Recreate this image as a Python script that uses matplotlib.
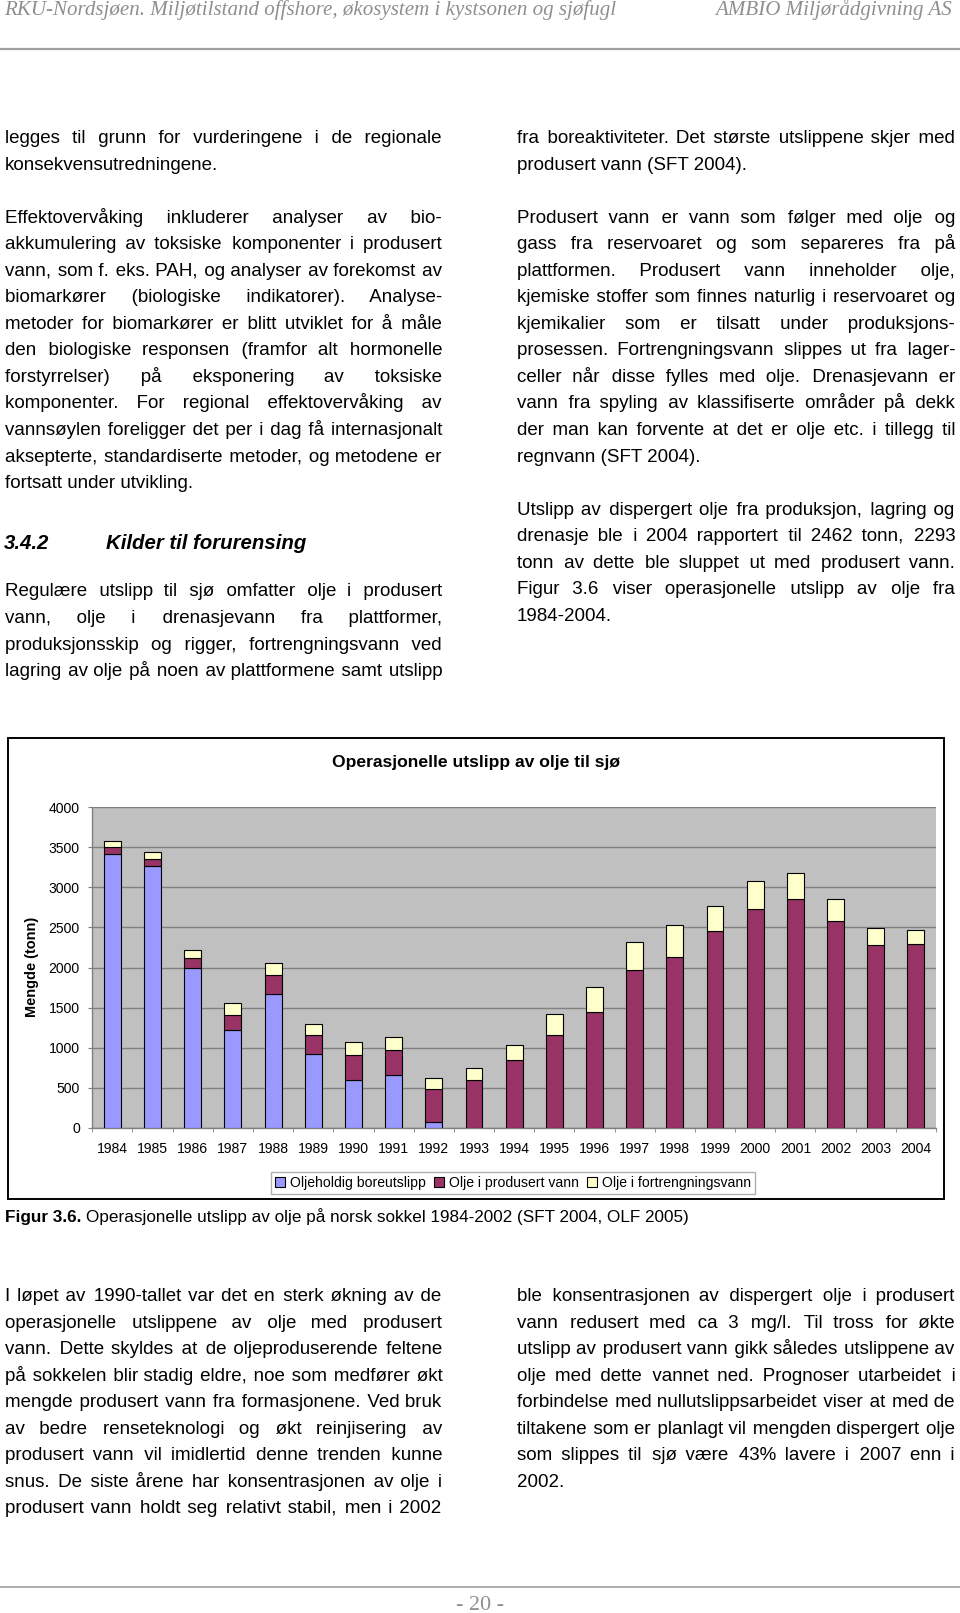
import matplotlib
matplotlib.use("Agg")
import matplotlib.pyplot as plt
from matplotlib import font_manager
from matplotlib.patches import Rectangle, Patch
import numpy as np

years = [str(y) for y in range(1984, 2005)]
boreutslipp = [3421, 3272, 1994, 1215, 1673, 924, 591, 658, 75, 0, 0,
               0, 0, 0, 0, 0, 0, 0, 0, 0, 0]
produsert_vann = [79, 79, 129, 192, 229, 229, 316, 308, 404, 591, 841,
                  1153, 1444, 1973, 2127, 2460, 2735, 2860, 2577, 2277, 2293]
fortrengningsvann = [84, 95, 91, 154, 150, 146, 163, 162, 145, 158, 195,
                     271, 313, 341, 404, 312, 345, 320, 283, 220, 169]
series_names = ["Oljeholdig boreutslipp", "Olje i produsert vann",
                "Olje i fortrengningsvann"]
series_colors = ["#9999FF", "#993366", "#FFFFCC"]

header_left = "RKU-Nordsjøen. Miljøtilstand offshore, økosystem i kystsonen og sjøfugl"
header_right = "AMBIO Miljørådgivning AS"

# (tekst, justert)
left_top = [
    ("legges til grunn for vurderingene i de regionale", True),
    ("konsekvensutredningene.", False),
    None,
    ("Effektovervåking inkluderer analyser av bio-", True),
    ("akkumulering av toksiske komponenter i produsert", True),
    ("vann, som f. eks. PAH, og analyser av forekomst av", True),
    ("biomarkører (biologiske indikatorer). Analyse-", True),
    ("metoder for biomarkører er blitt utviklet for å måle", True),
    ("den biologiske responsen (framfor alt hormonelle", True),
    ("forstyrrelser) på eksponering av toksiske", True),
    ("komponenter. For regional effektovervåking av", True),
    ("vannsøylen foreligger det per i dag få internasjonalt", True),
    ("aksepterte, standardiserte metoder, og metodene er", True),
    ("fortsatt under utvikling.", False),
]
left_mid = [
    ("Regulære utslipp til sjø omfatter olje i produsert", True),
    ("vann, olje i drenasjevann fra plattformer,", True),
    ("produksjonsskip og rigger, fortrengningsvann ved", True),
    ("lagring av olje på noen av plattformene samt utslipp", True),
]
right_top = [
    ("fra boreaktiviteter. Det største utslippene skjer med", True),
    ("produsert vann (SFT 2004).", False),
    None,
    ("Produsert vann er vann som følger med olje og", True),
    ("gass fra reservoaret og som separeres fra på", True),
    ("plattformen. Produsert vann inneholder olje,", True),
    ("kjemiske stoffer som finnes naturlig i reservoaret og", True),
    ("kjemikalier som er tilsatt under produksjons-", True),
    ("prosessen. Fortrengningsvann slippes ut fra lager-", True),
    ("celler når disse fylles med olje. Drenasjevann er", True),
    ("vann fra spyling av klassifiserte områder på dekk", True),
    ("der man kan forvente at det er olje etc. i tillegg til", True),
    ("regnvann (SFT 2004).", False),
    None,
    ("Utslipp av dispergert olje fra produksjon, lagring og", True),
    ("drenasje ble i 2004 rapportert til 2462 tonn, 2293", True),
    ("tonn av dette ble sluppet ut med produsert vann.", True),
    ("Figur 3.6 viser operasjonelle utslipp av olje fra", True),
    ("1984-2004.", False),
]
left_bottom = [
    ("I løpet av 1990-tallet var det en sterk økning av de", True),
    ("operasjonelle utslippene av olje med produsert", True),
    ("vann. Dette skyldes at de oljeproduserende feltene", True),
    ("på sokkelen blir stadig eldre, noe som medfører økt", True),
    ("mengde produsert vann fra formasjonene. Ved bruk", True),
    ("av bedre renseteknologi og økt reinjisering av", True),
    ("produsert vann vil imidlertid denne trenden kunne", True),
    ("snus. De siste årene har konsentrasjonen av olje i", True),
    ("produsert vann holdt seg relativt stabil, men i 2002", True),
]
right_bottom = [
    ("ble konsentrasjonen av dispergert olje i produsert", True),
    ("vann redusert med ca 3 mg/l. Til tross for økte", True),
    ("utslipp av produsert vann gikk således utslippene av", True),
    ("olje med dette vannet ned. Prognoser utarbeidet i", True),
    ("forbindelse med nullutslippsarbeidet viser at med de", True),
    ("tiltakene som er planlagt vil mengden dispergert olje", True),
    ("som slippes til sjø være 43% lavere i 2007 enn i", True),
    ("2002.", False),
]

W, H = 960, 1613
names = {f.name for f in font_manager.fontManager.ttflist}
SANS = "Liberation Sans Narrow" if "Liberation Sans Narrow" in names else "Liberation Sans"
SERIF = "Liberation Serif"

fig = plt.figure(figsize=(W / 100, H / 100), dpi=100)
fig.patch.set_facecolor("white")
bg = fig.add_axes([0, 0, 1, 1])
bg.set_xlim(0, W)
bg.set_ylim(H, 0)
bg.axis("off")
renderer = fig.canvas.get_renderer()


def text_width(s, size, **kw):
    t = bg.text(0, 0, s, fontsize=size, **kw)
    w = t.get_window_extent(renderer).width
    t.remove()
    return w


def fit_size(s, width, **kw):
    return 10 * width / text_width(s, 10, **kw)


THIN, HAIR = "\u2009", "\u200a"


def justify(words, width, size, **kw):
    # hele linja som én tekst, ekstra luft fylt med smale mellomrom
    base = text_width("xx", size, **kw)
    t = text_width("x" + THIN + "x", size, **kw) - base
    h = text_width("x" + HAIR + "x", size, **kw) - base
    extra = width - text_width(" ".join(words), size, **kw)
    if extra <= 0 or t <= 0.5:
        return " ".join(words)
    e = extra / (len(words) - 1)
    out, carry = words[0], 0.0
    for w in words[1:]:
        need = e + carry
        nt = int(need // t)
        rest = need - nt * t
        nh = int(round(rest / h)) if h > 0.3 else 0
        carry = need - nt * t - nh * h
        out += " " + THIN * nt + HAIR * nh + w
    return out


def put_line(s, x0, x1, y, size, just, **kw):
    words = s.split()
    if just and len(words) > 1:
        s = justify(words, x1 - x0, size, **kw)
    bg.text(x0, y, s, fontsize=size, va="baseline", ha="left", **kw)


def put_block(lines, x0, x1, y0, step, size, **kw):
    y = y0
    for ln in lines:
        if ln is not None:
            put_line(ln[0], x0, x1, y, size, ln[1], **kw)
        y += step


body = dict(family=[SANS, "DejaVu Sans"], color="black")
body_size = fit_size("konsekvensutredningene.", 214, **body)
step = 26.55

# topptekst / bunntekst
hdr = dict(family=SERIF, style="italic", color="#8f8f8f")
hsize = fit_size(header_left, 612, **hdr)
bg.text(4, 15, header_left, fontsize=hsize, va="baseline", ha="left", **hdr)
bg.text(952, 15, header_right, fontsize=hsize, va="baseline", ha="right", **hdr)
bg.plot([0, W], [49, 49], color="#a0a0a0", lw=1.6)
bg.plot([0, W], [1587, 1587], color="#a0a0a0", lw=1.2)
psize = fit_size("- 20 -", 48, family=SERIF)
bg.text(480, 1610, "- 20 -", fontsize=psize, family=SERIF, color="#8f8f8f",
        ha="center", va="baseline")

# brødtekst
put_block(left_top, 5, 442, 143, step, body_size, **body)
put_block(right_top, 517, 955, 143, step, body_size, **body)
put_block(left_mid, 5, 442, 596.5, step, body_size, **body)
put_block(left_bottom, 5, 442, 1301, step, body_size, **body)
put_block(right_bottom, 517, 955, 1301, step, body_size, **body)

# overskrift
hd = dict(family=SANS, weight="bold", style="italic", color="black")
hd_size = fit_size("Kilder til forurensing", 201, **hd)
bg.text(4, 549, "3.4.2", fontsize=hd_size, va="baseline", **hd)
bg.text(106, 549, "Kilder til forurensing", fontsize=hd_size, va="baseline", **hd)

# figurtekst
cap = dict(family=SANS, color="black")
cap_rest = "Operasjonelle utslipp av olje på norsk sokkel 1984-2002 (SFT 2004, OLF 2005)"
cap_size = fit_size(cap_rest, 603, **cap)
bg.text(5, 1222, "Figur 3.6.", fontsize=cap_size, weight="bold", va="baseline", **cap)
bw = text_width("Figur 3.6. ", cap_size, weight="bold", **cap)
bg.text(5 + bw, 1222, cap_rest, fontsize=cap_size, va="baseline", **cap)

# diagramramme
bg.add_patch(Rectangle((8, 738), 936, 460.5, fill=False, ec="black", lw=1.4))
ttl = dict(family=SANS, weight="bold")
bg.text(476, 763, "Operasjonelle utslipp av olje til sjø",
        fontsize=fit_size("Operasjonelle utslipp av olje til sjø", 288, **ttl),
        ha="center", va="center", **ttl)
bg.text(32, 967, "Mengde (tonn)", rotation=90, ha="center", va="center",
        fontsize=fit_size("Mengde (tonn)", 100, **ttl), **ttl)

tick_size = fit_size("1984", 31, family=SANS)
leg_size = fit_size("Oljeholdig boreutslipp", 135, family=SANS)

pl, pr, pt, pb = 92.3, 936, 807.3, 1127.7
ax = fig.add_axes([pl / W, 1 - pb / H, (pr - pl) / W, (pb - pt) / H])
ax.set_facecolor("#C0C0C0")
x = np.arange(len(years))
b1 = np.array(boreutslipp)
b2 = np.array(produsert_vann)
b3 = np.array(fortrengningsvann)
bw_bar = 0.42
ax.bar(x, b1, bw_bar, color=series_colors[0], edgecolor="black", lw=0.8, zorder=3)
ax.bar(x, b2, bw_bar, bottom=b1, color=series_colors[1], edgecolor="black", lw=0.8, zorder=3)
ax.bar(x, b3, bw_bar, bottom=b1 + b2, color=series_colors[2], edgecolor="black", lw=0.8, zorder=3)
ax.set_xlim(-0.5, len(years) - 0.5)
ax.set_ylim(0, 4000)
ax.set_yticks(np.arange(0, 4001, 500))
ax.yaxis.grid(True, color="#808080", lw=1)
ax.set_axisbelow(True)
for s in ["top", "right"]:
    ax.spines[s].set_visible(False)
for s in ["left", "bottom"]:
    ax.spines[s].set_color("#808080")
    ax.spines[s].set_linewidth(1)
ax.set_xticks(x)
ax.set_xticklabels(years)
ax.set_xticks(np.arange(-0.5, len(years)), minor=True)
ax.tick_params(axis="x", which="major", length=0, pad=10, labelsize=tick_size)
ax.tick_params(axis="x", which="minor", length=3, color="#808080", direction="out")
ax.tick_params(axis="y", length=3, color="#808080", pad=6, labelsize=tick_size)
for lab in ax.get_xticklabels() + ax.get_yticklabels():
    lab.set_family(SANS)

handles = [Patch(facecolor=c, edgecolor="black", lw=0.8) for c in series_colors]
leg = fig.legend(handles, series_names, loc="center", ncol=3,
                 bbox_to_anchor=(513 / W, 1 - 1183 / H),
                 prop=dict(family=SANS, size=leg_size), fancybox=False,
                 frameon=True, edgecolor="#b0b0b0", framealpha=1,
                 handlelength=0.7, handleheight=0.7, handletextpad=0.35,
                 columnspacing=0.6, borderpad=0.3, borderaxespad=0)
leg.get_frame().set_linewidth(1)

fig.savefig("out.png", dpi=100, facecolor="white")
